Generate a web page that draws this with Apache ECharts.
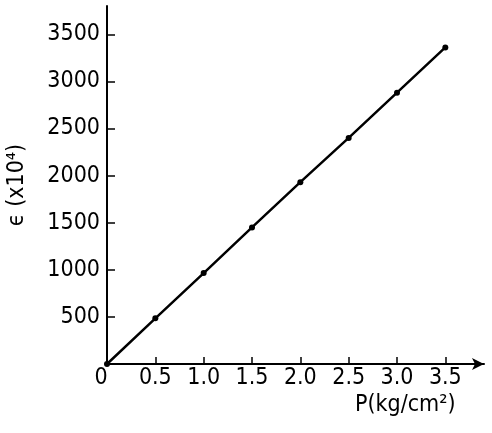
<!DOCTYPE html>
<html>
<head>
<meta charset="utf-8">
<script src="https://cdn.jsdelivr.net/npm/echarts@6/dist/echarts.min.js"></script>
<style>html,body{margin:0;padding:0;background:#fff}#c{width:492px;height:433px}</style>
</head>
<body>
<div id="c"></div>
<script>
const pressure = [0, 0.5, 1.0, 1.5, 2.0, 2.5, 3.0, 3.5];
const strain = [0, 485, 965, 1450, 1930, 2400, 2880, 3360];
const xTicks = [0, 0.5, 1.0, 1.5, 2.0, 2.5, 3.0, 3.5];
const xTickLabels = ['0', '0.5', '1.0', '1.5', '2.0', '2.5', '3.0', '3.5'];
const yTicks = [500, 1000, 1500, 2000, 2500, 3000, 3500];
const yTickLabels = ['500', '1000', '1500', '2000', '2500', '3000', '3500'];
const xTitle = 'P(kg/cm²)';
const yTitle = 'ϵ (x10⁴)';

const FONT = '"DejaVu Sans Condensed", "DejaVu Sans", sans-serif';
const FS = 23;
const chart = echarts.init(document.getElementById('c'), null, {renderer: 'canvas'});
const xLabelMap = {};
xTicks.forEach((v, i) => { xLabelMap[v.toFixed(1)] = xTickLabels[i]; });
const yLabelMap = {};
yTicks.forEach((v, i) => { yLabelMap[v] = yTickLabels[i]; });

const baseX = {
  type: 'value', min: 0, max: 3.9, gridIndex: 0,
  splitLine: {show: false}
};
const baseY = {
  type: 'value', min: 0, max: 3800, gridIndex: 0,
  splitLine: {show: false}
};

chart.setOption({
  animation: false,
  backgroundColor: '#fff',
  grid: {left: 107, right: 8, top: 6, bottom: 69, containLabel: false, outerBoundsMode: 'none'},
  xAxis: [
    Object.assign({}, baseX, {
      axisLine: {show: true, lineStyle: {color: '#000', width: 2}, symbol: ['none', 'arrow'], symbolSize: [9, 12]},
      axisTick: {show: true, inside: true, length: 7, lineStyle: {color: '#000', width: 1.5}, customValues: xTicks.slice(1)},
      axisLabel: {
        show: true, color: '#000', fontSize: FS, fontFamily: FONT, margin: 3,
        customValues: xTicks,
        formatter: v => v === 0 ? '{z|0}' : xLabelMap[v.toFixed(1)],
        rich: {z: {fontSize: FS, fontFamily: FONT, color: '#000', padding: [0, 12, 0, 0]}}
      }
    }),
    Object.assign({}, baseX, {
      axisLine: {show: false},
      axisTick: {show: true, inside: false, length: 4, lineStyle: {color: '#000', width: 1.5}, customValues: xTicks.slice(1)},
      axisLabel: {show: false}
    })
  ],
  yAxis: [
    Object.assign({}, baseY, {
      name: yTitle, nameLocation: 'middle', nameGap: 78, nameRotate: 90,
      nameTextStyle: {color: '#000', fontSize: FS, fontFamily: FONT},
      axisLine: {show: true, lineStyle: {color: '#000', width: 2}},
      axisTick: {show: true, inside: true, length: 8, lineStyle: {color: '#000', width: 1.5}, customValues: yTicks},
      axisLabel: {show: true, color: '#000', fontSize: FS, fontFamily: FONT, margin: 7, customValues: yTicks,
        formatter: v => yLabelMap[v]}
    }),
    Object.assign({}, baseY, {
      axisLine: {show: false},
      axisTick: {show: true, inside: false, length: 4, lineStyle: {color: '#000', width: 1.5}, customValues: yTicks},
      axisLabel: {show: false}
    })
  ],
  graphic: [{
    type: 'text', left: 355, top: 394,
    style: {text: xTitle, fill: '#000', fontSize: FS, fontFamily: FONT}
  }],
  series: [{
    type: 'line',
    xAxisIndex: 0, yAxisIndex: 0,
    data: pressure.map((p, i) => [p, strain[i]]),
    symbol: 'circle', symbolSize: 6, showSymbol: true,
    lineStyle: {color: '#000', width: 2.5},
    itemStyle: {color: '#000'}
  }]
});
</script>
</body>
</html>
